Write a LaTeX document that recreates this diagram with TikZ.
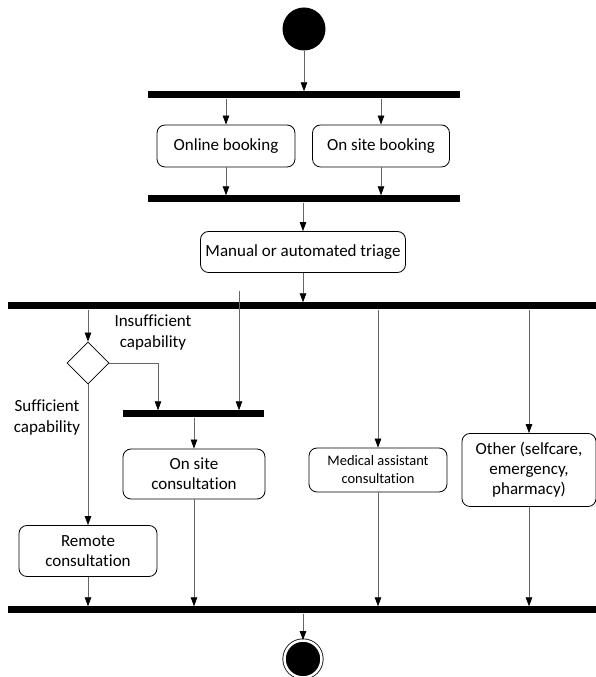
\documentclass[tikz,border=0pt]{standalone}
\usepackage{fontspec}
\setmainfont[Ligatures=NoCommon]{Carlito}
\usetikzlibrary{calc, positioning}
\usetikzlibrary{arrows.meta}
\usetikzlibrary{shapes.geometric}

\begin{document}
\begin{tikzpicture}[x=1pt,y=1pt,
  action/.style={draw, rounded corners=8pt, line width=0.8pt, align=center,
    inner sep=2pt, font=\fontsize{17}{20}\selectfont},
  bar/.style={fill=black, inner sep=0pt, minimum height=7pt},
  flow/.style={draw=black!60, line width=0.7pt,
    -{Triangle[length=9pt,width=6.5pt,color=black]}}]
\useasboundingbox (0,0) rectangle (596,677);

% initial and final states
\node[circle, fill=black, minimum size=43pt, inner sep=0pt] (start) at (304,648) {};
\node[circle, draw, fill=black, line width=0.8pt, double=white,
  double distance=2.5pt, minimum size=37pt, inner sep=0pt] (stop) at (303,18) {};

% synchronisation bars
\node[bar, minimum width=312pt] (fork1) at (304,582) {};
\node[bar, minimum width=312pt] (fork2) at (304,478) {};
\node[bar, minimum width=588pt] (fork3) at (302,371) {};
\node[bar, minimum width=141pt] (join) at (193.5,263) {};
\node[bar, minimum width=588pt] (merge) at (302,67) {};

% actions
\node[action, minimum width=138pt, minimum height=42pt] (online) at (226,531) {Online booking};
\node[action, minimum width=137pt, minimum height=42pt] (onsite) at (381,531) {On site booking};
\node[action, minimum width=205pt, minimum height=41pt] (triage) at (303,425) {Manual or automated triage};
\node[action, minimum width=142pt, minimum height=50pt] (visit) at (194,203) {On site\\consultation};
\node[action, minimum width=138pt, minimum height=44pt,
  font=\fontsize{14.5}{18}\selectfont] (medical) at (378,207) {Medical assistant\\consultation};
\node[action, minimum width=134pt, minimum height=73pt] (other) at (529,207) {Other (selfcare,\\emergency,\\pharmacy)};
\node[action, minimum width=138pt, minimum height=51pt] (remote) at (88,126) {Remote\\consultation};

% decision
\node[draw, diamond, aspect=1, minimum size=42pt, inner sep=0pt, line width=0.8pt] (choice) at (88,314) {};
\node[align=center, font=\fontsize{17}{21}\selectfont] (insuf) at (153,344) {Insufficient\\capability};
\node[align=center, font=\fontsize{17}{21}\selectfont] (suf) at (47,259) {Sufficient\\capability};

\coordinate (bend) at (158,314);
\coordinate (tail) at (239,386);

% flows
\draw[flow] (start) -- (fork1.north -| start);
\draw[flow] (fork1.south -| online) -- (online);
\draw[flow] (fork1.south -| onsite) -- (onsite);
\draw[flow] (online) -- (fork2.north -| online);
\draw[flow] (onsite) -- (fork2.north -| onsite);
\draw[flow] (fork2.south -| triage) -- (triage);
\draw[flow] (triage) -- (fork3.north -| triage);
\draw[flow] (fork3.south -| choice) -- (choice);
\draw[flow] (choice.east) -- (bend) -- (bend |- join.north);
\draw[flow] (tail) -- (tail |- join.north);
\draw[flow] (choice) -- (remote);
\draw[flow] (join.south -| visit) -- (visit);
\draw[flow] (fork3.south -| medical) -- (medical);
\draw[flow] (fork3.south -| other) -- (other);
\draw[flow] (remote) -- (merge.north -| remote);
\draw[flow] (visit) -- (merge.north -| visit);
\draw[flow] (medical) -- (merge.north -| medical);
\draw[flow] (other) -- (merge.north -| other);
\draw[flow] (merge.south -| stop) -- (stop);
\end{tikzpicture}
\end{document}
